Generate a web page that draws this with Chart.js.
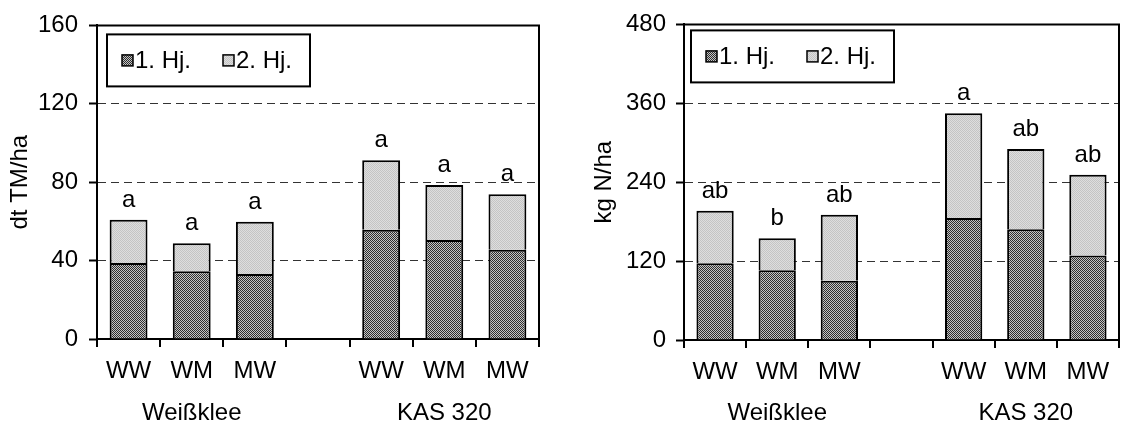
<html>

<head>
    <meta charset="utf-8">
    <title>Ertrag und N-Menge</title>
    <script src="https://cdn.jsdelivr.net/npm/chart.js@4.4.1/dist/chart.umd.min.js"></script>
    <style>
        body { margin: 0; background: #fff; }
        canvas { position: absolute; top: 0; }
        #tmChart { left: 0; }
        #nChart { left: 560px; }
    </style>
</head>

<body>
    <canvas id="tmChart" width="560" height="430"></canvas>
    <canvas id="nChart" width="561" height="430"></canvas>
    <script>
        // categories (empty slot separates the two groups)
        const categories = ['WW', 'WM', 'MW', '', 'WW', 'WM', 'MW'];
        const groupNames = ['Weißklee', 'KAS 320'];
        const groupSlots = [[0, 1, 2], [4, 5, 6]];
        const seriesNames = ['1. Hj.', '2. Hj.'];

        // dt TM/ha
        const tmFirst = [38.8, 34.6, 33.2, null, 55.7, 50.5, 45.5];
        const tmSecond = [22.1, 14.3, 26.6, null, 35.5, 28.1, 28.4];
        const tmLetters = ['a', 'a', 'a', '', 'a', 'a', 'a'];
        const tmTicks = [0, 40, 80, 120, 160];

        // kg N/ha
        const nFirst = [116.7, 106.2, 90.3, null, 185.6, 168.3, 128.6];
        const nSecond = [79.9, 48.7, 100.3, null, 159.4, 122.1, 122.6];
        const nLetters = ['ab', 'b', 'ab', '', 'a', 'ab', 'ab'];
        const nTicks = [0, 120, 240, 360, 480];

        const FONT = "'Liberation Sans', Arial, sans-serif";
        const FSIZE = 24;

        function makePattern(c1, c2) {
            const p = document.createElement('canvas');
            p.width = 2; p.height = 2;
            const pc = p.getContext('2d');
            pc.fillStyle = c2; pc.fillRect(0, 0, 2, 2);
            pc.fillStyle = c1; pc.fillRect(0, 0, 1, 1); pc.fillRect(1, 1, 1, 1);
            return pc.createPattern(p, 'repeat');
        }
        const darkFill = makePattern('#2e2e2e', '#c4c4c4');
        const lightFill = makePattern('#c4c4c4', '#dedede');

        const framePlugin = {
            id: 'frame',
            afterDraw(chart) {
                const a = chart.chartArea, ctx = chart.ctx;
                ctx.save();
                ctx.strokeStyle = '#000';
                ctx.lineWidth = 2;
                ctx.beginPath();
                ctx.moveTo(a.left, a.top);
                ctx.lineTo(a.right, a.top);
                ctx.lineTo(a.right, a.bottom);
                ctx.stroke();
                ctx.restore();
            }
        };

        const lettersPlugin = {
            id: 'letters',
            afterDatasetsDraw(chart, args, opts) {
                const meta = chart.getDatasetMeta(1), ctx = chart.ctx;
                ctx.save();
                ctx.font = FSIZE + 'px ' + FONT;
                ctx.fillStyle = '#000';
                ctx.textAlign = 'center';
                ctx.textBaseline = 'alphabetic';
                opts.letters.forEach((t, i) => {
                    if (!t) return;
                    const bar = meta.data[i];
                    ctx.fillText(t, bar.x, bar.y - 13);
                });
                ctx.restore();
            }
        };

        const groupPlugin = {
            id: 'groups',
            afterDraw(chart) {
                const xs = chart.scales.x, ctx = chart.ctx;
                ctx.save();
                ctx.font = FSIZE + 'px ' + FONT;
                ctx.fillStyle = '#000';
                ctx.textAlign = 'center';
                ctx.textBaseline = 'middle';
                groupSlots.forEach((slots, g) => {
                    const x = slots.map(i => xs.getPixelForValue(i)).reduce((s, v) => s + v, 0) / slots.length;
                    ctx.fillText(groupNames[g], x, 413);
                });
                ctx.restore();
            }
        };

        const boxLegendPlugin = {
            id: 'boxLegend',
            afterDraw(chart, args, opts) {
                const a = chart.chartArea, ctx = chart.ctx;
                const lx = a.left + opts.dx, ly = a.top + opts.dy, lw = 203, lh = 52;
                ctx.save();
                ctx.fillStyle = '#fff';
                ctx.fillRect(lx, ly, lw, lh);
                ctx.strokeStyle = '#000';
                ctx.lineWidth = 2;
                ctx.strokeRect(lx, ly, lw, lh);
                ctx.font = FSIZE + 'px ' + FONT;
                ctx.textBaseline = 'middle';
                const offs = [15, 116];
                chart.data.datasets.forEach((ds, i) => {
                    const sx = lx + offs[i], sy = ly + lh / 2 - 5.5;
                    ctx.fillStyle = ds.backgroundColor;
                    ctx.fillRect(sx, sy, 11, 11);
                    ctx.lineWidth = 1.5;
                    ctx.strokeRect(sx, sy, 11, 11);
                    ctx.fillStyle = '#000';
                    ctx.fillText(ds.label, sx + 13, ly + lh / 2 + 1);
                });
                ctx.restore();
            }
        };

        function Build(id, first, second, letters, ticks, yTitle, lay) {
            const max = ticks[ticks.length - 1];
            return new Chart(document.getElementById(id), {
                type: 'bar',
                data: {
                    labels: categories,
                    datasets: [
                        { label: seriesNames[0], data: first, backgroundColor: darkFill, borderColor: '#000', borderWidth: 2 },
                        { label: seriesNames[1], data: second, backgroundColor: lightFill, borderColor: '#000', borderWidth: 2 }
                    ]
                },
                options: {
                    responsive: false,
                    animation: false,
                    layout: { padding: { top: lay.top, right: lay.right, left: 0, bottom: 0 } },
                    datasets: { bar: { barPercentage: 0.6, categoryPercentage: 1 } },
                    plugins: {
                        legend: { display: false },
                        tooltip: { enabled: false },
                        letters: { letters: letters },
                        boxLegend: { dx: lay.legX, dy: lay.legY }
                    },
                    scales: {
                        x: {
                            stacked: true,
                            grid: { offset: true, drawOnChartArea: false, color: '#000', tickLength: 8, lineWidth: 2 },
                            border: { color: '#000', width: 2 },
                            ticks: { color: '#000', padding: 10, font: { family: FONT, size: FSIZE } },
                            afterFit(s) { s.height = 430 - lay.bottom; }
                        },
                        y: {
                            stacked: true,
                            min: 0,
                            max: max,
                            afterBuildTicks(s) { s.ticks = ticks.map(v => ({ value: v })); },
                            grid: {
                                color: c => (c.tick && (c.tick.value === 0 || c.tick.value === max)) ? 'rgba(0,0,0,0)' : '#333333',
                                lineWidth: 1,
                                tickColor: '#000',
                                tickWidth: 2,
                                tickLength: 8
                            },
                            border: { color: '#000', width: 2, dash: [8, 5] },
                            ticks: { color: '#000', padding: lay.tickPad, font: { family: FONT, size: FSIZE } },
                            title: { display: true, text: yTitle, color: '#000', padding: { top: lay.titlePad, bottom: 0 }, font: { family: FONT, size: FSIZE } },
                            afterFit(s) { s.width = lay.left; }
                        }
                    }
                },
                plugins: [framePlugin, lettersPlugin, groupPlugin, boxLegendPlugin]
            });
        }

        Build('tmChart', tmFirst, tmSecond, tmLetters, tmTicks, 'dt TM/ha',
            { left: 97, right: 21, top: 21, bottom: 339, tickPad: 11, titlePad: 6, legX: 10, legY: 9 });
        Build('nChart', nFirst, nSecond, nLetters, nTicks, 'kg N/ha',
            { left: 124, right: 2, top: 20, bottom: 340, tickPad: 10, titlePad: 30, legX: 7, legY: 6 });
    </script>
</body>

</html>
